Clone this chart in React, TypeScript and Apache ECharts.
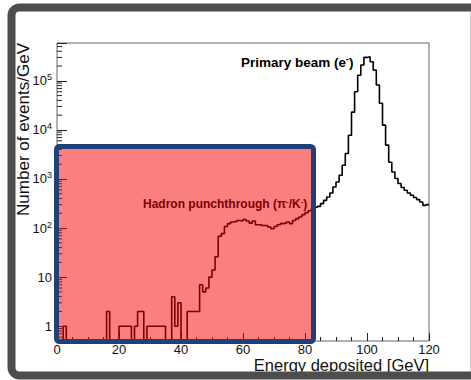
import React, { useEffect, useRef } from "react";
import * as echarts from "echarts";

// Histogram binning (GeV)
const binLow = 0;
const binWidth = 1;

// Events per GeV in each 1 GeV bin, from 0 to 120 GeV
const counts = [
  0, 0, 1, 0, 0, 0, 0, 0, 0, 0,
  0, 0, 0, 0, 0, 0, 2, 0, 0, 0,
  1, 1, 1, 1, 0, 1, 2, 2, 0, 1,
  1, 1, 1, 1, 1, 0, 0, 4, 1, 3,
  0, 0, 2, 2, 2, 2, 7, 5, 6, 10,
  14, 26, 68, 77, 108, 123, 133, 137, 143, 139,
  150, 139, 126, 139, 117, 117, 113, 113, 105, 97,
  108, 117, 123, 126, 133, 123, 143, 156, 168, 188,
  206, 225, 248, 265, 277, 315, 367, 430, 518, 687,
  870, 1190, 1900, 3300, 7800, 23000, 60000, 130000, 210000, 300000,
  310000, 245000, 165000, 82000, 35000, 12500, 4900, 2200, 1390, 1020,
  810, 670, 590, 520, 465, 420, 380, 340, 290, 300,
];

const xMin = 0;
const xMax = 120;
const xInterval = 20;
const yMin = 0.5;
const yMax = 5.9e5;

// Minor log ticks: mantissas 2..9 in every decade
const minorMantissas = [2, 3, 4, 5, 6, 7, 8, 9];
const minorDecades = [0.1, 1, 10, 100, 1000, 10000, 100000];

const xTitle = "Energy deposited [GeV]";
const yTitle = "Number of events/GeV";
const beamLabel = "{b|Primary beam (e}{s|-}{b|)}";
const hadronLabel = "{b|Hadron punchthrough (\u03c0}{s|-}{b|/K}{s|-}{b|)}";

const FONT = "'Liberation Sans', Arial, Helvetica, sans-serif";
const INK = "#111";

export default function App() {
  const ref = useRef<HTMLDivElement>(null);

  useEffect(() => {
    if (!ref.current) return;
    const chart = echarts.init(ref.current, undefined, { renderer: "svg" });

    // ROOT-style drawing: empty bins sit on the lower edge of the log frame
    const stepData: [number, number][] = counts.map((v, i) => [
      binLow + i * binWidth,
      Math.max(v, yMin),
    ]);
    stepData.push([
      binLow + counts.length * binWidth,
      Math.max(counts[counts.length - 1], yMin),
    ]);

    const minorTicks: [number, number][] = [];
    minorDecades.forEach((d) =>
      minorMantissas.forEach((m) => {
        const v = m * d;
        if (v > yMin && v < yMax) minorTicks.push([xMin, v]);
      })
    );

    const bold = "bold" as const;
    const beamRich = {
      b: { fontSize: 13.5, fontWeight: bold, fontFamily: FONT, color: "#000", lineHeight: 15 },
      s: { fontSize: 8.5, fontWeight: bold, fontFamily: FONT, color: "#000", verticalAlign: "top" as const },
    };
    const hadronRich = {
      b: { fontSize: 12, fontWeight: bold, fontFamily: FONT, color: "#000", lineHeight: 14 },
      s: { fontSize: 7.5, fontWeight: bold, fontFamily: FONT, color: "#000", verticalAlign: "top" as const },
    };

    chart.setOption({
      animation: false,
      backgroundColor: "#fff",
      grid: {
        left: 57,
        right: 42,
        top: 43,
        bottom: 39,
        show: true,
        borderColor: "#666",
        borderWidth: 1,
        backgroundColor: "transparent",
      },
      xAxis: {
        type: "value",
        min: xMin,
        max: xMax,
        interval: xInterval,
        axisLine: { show: false },
        splitLine: { show: false },
        axisTick: { show: true, inside: true, length: 8, lineStyle: { color: "#222", width: 1 } },
        minorTick: { show: true, splitNumber: 4, length: 4, lineStyle: { color: "#222", width: 1 } },
        axisLabel: { fontFamily: FONT, fontSize: 13, lineHeight: 13, color: INK, margin: 2 },
      },
      yAxis: {
        type: "log",
        logBase: 10,
        min: yMin,
        max: yMax,
        axisLine: { show: false },
        splitLine: { show: false },
        axisTick: { show: true, inside: true, length: 10, lineStyle: { color: "#222", width: 1 } },
        axisLabel: {
          fontFamily: FONT,
          fontSize: 13,
          color: INK,
          margin: 5,
          formatter: (v: number) => {
            const k = Math.round(Math.log10(v));
            const p = Math.pow(10, k);
            if (Math.abs(v - p) / p > 1e-6) return "";
            if (k === 0) return "1";
            if (k === 1) return "10";
            return "{b|10}{s|" + k + "}";
          },
          rich: {
            b: { fontFamily: FONT, fontSize: 13, color: INK, lineHeight: 16 },
            s: { fontFamily: FONT, fontSize: 9, color: INK, verticalAlign: "top" },
          },
        },
      },
      series: [
        {
          type: "line",
          step: "end",
          data: stepData,
          showSymbol: false,
          symbol: "none",
          lineStyle: { color: "#000", width: 1.6 },
          silent: true,
          z: 3,
        },
        {
          type: "custom",
          data: minorTicks,
          silent: true,
          clip: false,
          z: 4,
          renderItem: (_params: any, api: any) => {
            const p = api.coord([api.value(0), api.value(1)]);
            return {
              type: "line",
              shape: { x1: p[0], y1: p[1], x2: p[0] + 5, y2: p[1] },
              style: { stroke: "#222", lineWidth: 1 },
            };
          },
        },
      ],
      graphic: [
        {
          type: "text",
          x: 241,
          y: 62,
          z: 50,
          style: { text: beamLabel, rich: beamRich, align: "left", verticalAlign: "middle" },
        },
        {
          type: "text",
          x: 143,
          y: 204,
          z: 50,
          style: { text: hadronLabel, rich: hadronRich, align: "left", verticalAlign: "middle" },
        },
        {
          type: "text",
          x: 429,
          y: 364.5,
          z: 50,
          style: { text: xTitle, fontFamily: FONT, fontSize: 16.5, fill: INK, align: "right", verticalAlign: "middle" },
        },
        {
          type: "text",
          x: 23,
          y: 43,
          rotation: Math.PI / 2,
          z: 50,
          style: { text: yTitle, fontFamily: FONT, fontSize: 17, fill: INK, align: "right", verticalAlign: "middle" },
        },
        {
          type: "rect",
          z: 100,
          shape: { x: 56.5, y: 146.5, width: 257, height: 195, r: 3 },
          style: { fill: "rgba(245,0,0,0.5)", stroke: "#213f78", lineWidth: 5 },
        },
        {
          type: "line",
          z: 190,
          shape: { x1: 470.5, y1: 11.5, x2: 470.5, y2: 371.5 },
          style: { stroke: "#d0d0d0", lineWidth: 1 },
        },
        {
          type: "rect",
          z: 200,
          shape: { x: 11.5, y: 7.5, width: 480, height: 368, r: 8 },
          style: { fill: "none", stroke: "#4d4d4d", lineWidth: 8 },
        },
      ],
    });

    return () => chart.dispose();
  }, []);

  return (
    <div
      ref={ref}
      style={{ position: "fixed", left: 0, top: 0, width: 471, height: 380 }}
    />
  );
}
